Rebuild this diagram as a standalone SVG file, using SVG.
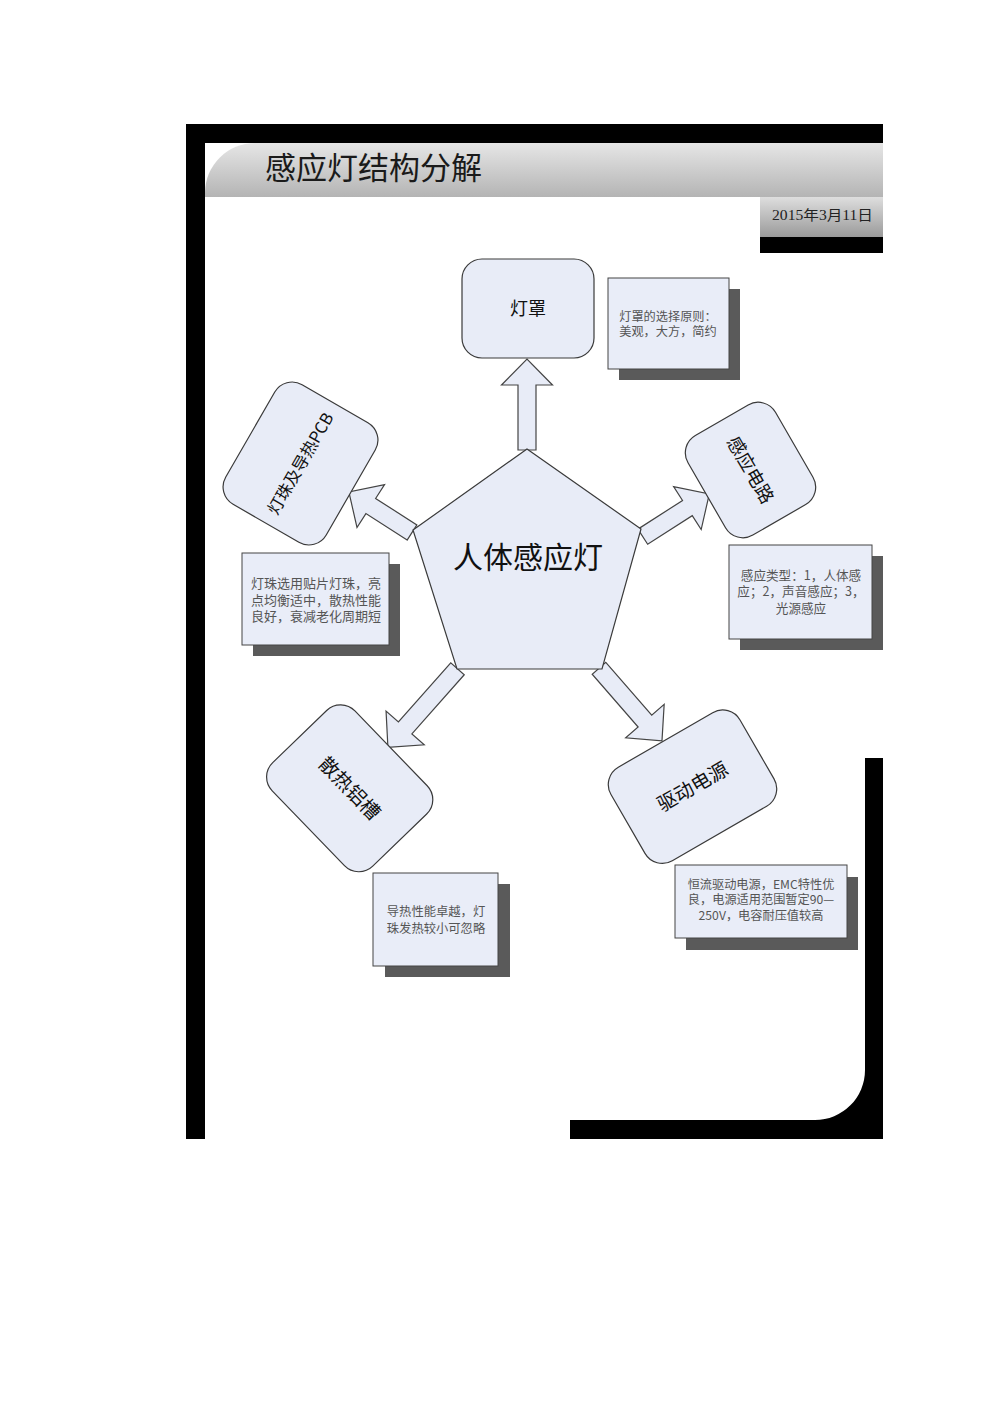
<svg xmlns="http://www.w3.org/2000/svg" width="1000" height="1414" viewBox="0 0 1000 1414">
<defs>
<linearGradient id="hdr" x1="0" y1="0" x2="0" y2="1">
<stop offset="0" stop-color="#e6e6e6"/>
<stop offset="1" stop-color="#b4b4b4"/>
</linearGradient>
<linearGradient id="dt" x1="0" y1="0" x2="0" y2="1">
<stop offset="0" stop-color="#dedede"/>
<stop offset="1" stop-color="#9a9a9a"/>
</linearGradient>
<style>
.blk{fill:#000}
.shape{fill:#e8ecf7;stroke:#3a3a3a;stroke-width:1.2}
.arrow{fill:#e8ecf7;stroke:#444;stroke-width:1.2}
.note{fill:#e9edf8;stroke:#444;stroke-width:1}
.shadow{fill:#5a5a5a}
.ntext{font-family:"Noto Sans CJK SC","Liberation Sans",sans-serif;font-size:12.6px;fill:#555;text-anchor:middle}
.ltext{font-family:"Noto Sans CJK SC","Liberation Sans",sans-serif;font-size:18px;fill:#111;text-anchor:middle}
</style>
</defs>
<rect width="1000" height="1414" fill="#fff"/>
<g id="frame">
<rect class="blk" x="186" y="124" width="697" height="19"/>
<rect class="blk" x="186" y="124" width="19" height="1015"/>
<path d="M205,197 V193 A50,50 0 0 1 255,143 H883 V197 Z" fill="url(#hdr)"/>
<rect x="760" y="197" width="123" height="40" fill="url(#dt)"/>
<rect class="blk" x="760" y="237" width="123" height="16"/>
<path class="blk" d="M865,758 H883 V1139 H570 V1120 H815 A50,50 0 0 0 865,1070 Z"/>
<text x="265" y="179" font-family="'Noto Sans CJK SC','Liberation Sans',sans-serif" font-size="31" fill="#1a1a1a">感应灯结构分解</text>
<text x="772" y="220" font-family="'Liberation Serif','Noto Sans CJK SC',serif" font-size="14" fill="#222" textLength="101" lengthAdjust="spacingAndGlyphs">2015年3月11日</text>
</g>
<g id="connectors">
<path class="arrow" transform="translate(527,450) rotate(-90)" d="M0,-9 H65 V-25.5 L91,0 L65,25.5 V9 H0 Z"/>
<path class="arrow" transform="translate(412,532.5) rotate(-147.3)" d="M0,-9 H49 V-25.5 L75,0 L49,25.5 V9 H0 Z"/>
<path class="arrow" transform="translate(642.8,536.7) rotate(-32.7)" d="M0,-9 H53 V-25.5 L79,0 L53,25.5 V9 H0 Z"/>
<path class="arrow" transform="translate(457.5,668.8) rotate(131.5)" d="M0,-9 H79 V-25.5 L105,0 L79,25.5 V9 H0 Z"/>
<path class="arrow" transform="translate(599,668.3) rotate(49)" d="M0,-9 H70 V-25.5 L96,0 L70,25.5 V9 H0 Z"/>
</g>
<g id="center">
<polygon class="shape" points="527,449 641,529 602,669 457,669 413,530"/>
<text x="528" y="568" class="ltext" style="font-size:30px">人体感应灯</text>
</g>
<g id="node-dengzhao">
<rect class="shape" x="462" y="259" width="132" height="99" rx="20"/>
<text x="528" y="315" class="ltext">灯罩</text>
</g>
<g id="node-dengzhu" transform="translate(300.5,463.5) rotate(-60)">
<rect class="shape" x="-69" y="-58" width="138" height="116" rx="20"/>
<text x="0" y="6" class="ltext" style="font-size:16.5px">灯珠及导热PCB</text>
</g>
<g id="node-ganying" transform="translate(750.5,470) rotate(60)">
<rect class="shape" x="-57.5" y="-50.5" width="115" height="101" rx="20"/>
<text x="0" y="6.5" class="ltext" style="font-size:18.5px">感应电路</text>
</g>
<g id="node-sanre" transform="translate(349.7,788.3) rotate(46)">
<rect class="shape" x="-72" y="-57.5" width="144" height="115" rx="20"/>
<text x="0" y="7" class="ltext" style="font-size:19.5px">散热铝槽</text>
</g>
<g id="node-qudong" transform="translate(692.5,786.7) rotate(-30)">
<rect class="shape" x="-74.5" y="-54" width="149" height="108" rx="20"/>
<text x="0" y="7" class="ltext" style="font-size:19.5px">驱动电源</text>
</g>
<g id="note-dengzhao">
<rect class="shadow" x="619" y="289" width="121" height="91"/>
<rect class="note" x="608" y="278" width="121" height="91"/>
<text class="ntext" x="668" y="320.8" style="font-size:12.2px">灯罩的选择原则：</text>
<text class="ntext" x="668" y="336.4" style="font-size:12.2px">美观，大方，简约</text>
</g>
<g id="note-dengzhu">
<rect class="shadow" x="253" y="564" width="147" height="92"/>
<rect class="note" x="242" y="553" width="147" height="92"/>
<text class="ntext" x="316" y="588" style="font-size:13px">灯珠选用贴片灯珠，亮</text>
<text class="ntext" x="316" y="604.5" style="font-size:13px">点均衡适中，散热性能</text>
<text class="ntext" x="316" y="621" style="font-size:13px">良好，衰减老化周期短</text>
</g>
<g id="note-ganying">
<rect class="shadow" x="740" y="556" width="143" height="94"/>
<rect class="note" x="729" y="545" width="143" height="94"/>
<text class="ntext" x="801" y="579.6">感应类型：1，人体感</text>
<text class="ntext" x="801" y="596.3">应；2，声音感应；3，</text>
<text class="ntext" x="801" y="613">光源感应</text>
</g>
<g id="note-sanre">
<rect class="shadow" x="385" y="884" width="125" height="93"/>
<rect class="note" x="373" y="873" width="125" height="93"/>
<text class="ntext" x="436" y="915.8" style="font-size:12.3px">导热性能卓越，灯</text>
<text class="ntext" x="436" y="932.6" style="font-size:12.3px">珠发热较小可忽略</text>
</g>
<g id="note-qudong">
<rect class="shadow" x="686" y="877" width="172" height="73"/>
<rect class="note" x="675" y="865" width="172" height="73"/>
<text class="ntext" x="761" y="888.8" style="font-size:12.2px">恒流驱动电源，EMC特性优</text>
<text class="ntext" x="761" y="904.4" style="font-size:12.2px">良，电源适用范围暂定90—</text>
<text class="ntext" x="761" y="920" style="font-size:12.2px">250V，电容耐压值较高</text>
</g>
</svg>
